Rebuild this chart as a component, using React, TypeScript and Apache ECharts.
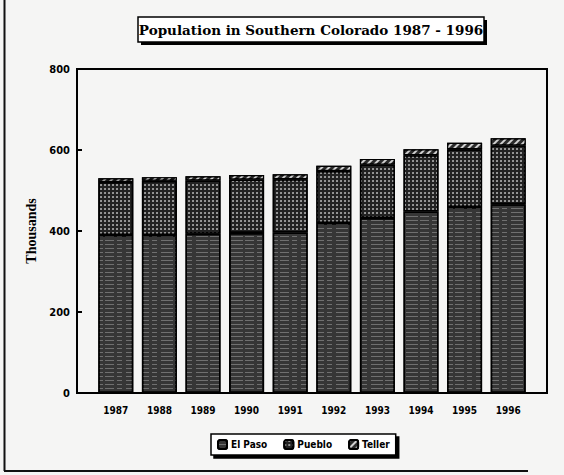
import React, { useEffect, useRef } from "react";
import * as echarts from "echarts";

const years = ["1987", "1988", "1989", "1990", "1991", "1992", "1993", "1994", "1995", "1996"];
const elPaso = [390, 390, 393, 395, 396, 420, 432, 448, 459, 466];
const pueblo = [131, 134, 132, 132, 132, 128, 132, 139, 143, 145];
const teller = [9, 9, 10, 11, 12, 13, 14, 15, 16, 18];
const yTicks = [0, 200, 400, 600, 800];

const NARROW = "'Liberation Sans Narrow', 'DejaVu Sans Condensed', 'Liberation Sans', sans-serif";
const SERIF = "'Liberation Serif', 'DejaVu Serif', serif";
const TITLE_FONT = "'DejaVu Serif', 'Liberation Serif', serif";

export default function App() {
  const ref = useRef<HTMLDivElement>(null);
  useEffect(() => {
    if (!ref.current) return;
    const chart = echarts.init(ref.current, null, { renderer: "svg" });
    const border = { borderColor: "#000", borderWidth: 1.5 };
    chart.setOption({
      animation: false,
      backgroundColor: "#f5f5f4",
      grid: { left: 94, right: 34, top: 69, bottom: 82, containLabel: false },
      legend: {
        left: 211,
        top: 434,
        itemWidth: 9,
        itemHeight: 9,
        itemGap: 16,
        padding: [5, 6, 5, 6],
        backgroundColor: "#fff",
        borderColor: "#000",
        borderWidth: 1.5,
        shadowColor: "#000",
        shadowBlur: 0,
        shadowOffsetX: 3,
        shadowOffsetY: 3,
        textStyle: { fontFamily: NARROW, fontWeight: "bold", fontSize: 10, color: "#000", padding: [0, 0, 0, -1] },
        data: ["El Paso", "Pueblo", "Teller"],
      },
      xAxis: {
        type: "category",
        data: years,
        axisLine: { show: false },
        axisTick: { show: false },
        axisLabel: { margin: 12, color: "#000", fontFamily: NARROW, fontWeight: "bold", fontSize: 10 },
      },
      yAxis: {
        type: "value",
        min: 0,
        max: 800,
        interval: 200,
        offset: 17,
        name: "Thousands",
        nameLocation: "middle",
        nameGap: 29,
        nameTextStyle: { fontFamily: SERIF, fontWeight: "bold", fontSize: 14, color: "#000" },
        axisLine: { show: false },
        axisTick: { show: true, inside: true, length: 5, lineStyle: { color: "#000", width: 2 } },
        splitLine: { show: false },
        axisLabel: { margin: 7, color: "#000", fontFamily: NARROW, fontWeight: "bold", fontSize: 11, customValues: yTicks },
      },
      series: [
        {
          name: "El Paso",
          type: "bar",
          stack: "pop",
          barWidth: 35,
          data: elPaso,
          itemStyle: {
            color: "#363636",
            ...border,
            decal: {
              symbol: "rect",
              symbolSize: 1,
              color: "rgba(170,170,170,0.5)",
              dashArrayX: [[9, 3, 5, 4, 12, 2]],
              dashArrayY: [1, 3],
            },
          },
        },
        {
          name: "Pueblo",
          type: "bar",
          stack: "pop",
          barWidth: 35,
          data: pueblo,
          itemStyle: {
            color: "#222",
            ...border,
            decal: {
              symbol: "circle",
              symbolSize: 0.85,
              color: "#c8c8c8",
              dashArrayX: [2, 2],
              dashArrayY: [2, 2],
            },
          },
        },
        {
          name: "Teller",
          type: "bar",
          stack: "pop",
          barWidth: 35,
          data: teller,
          itemStyle: {
            color: "#2a2a2a",
            borderColor: "#000",
            borderWidth: 1.2,
            decal: {
              symbol: "rect",
              symbolSize: 1,
              color: "#cfcfcf",
              dashArrayX: [1, 0],
              dashArrayY: [1.2, 2.3],
              rotation: -Math.PI / 4,
            },
          },
        },
      ],
      graphic: [
        // outer scan frame
        { type: "line", shape: { x1: 4.5, y1: 0, x2: 4.5, y2: 471 }, style: { stroke: "#111", lineWidth: 2 } },
        { type: "line", shape: { x1: 4, y1: 471, x2: 528, y2: 471 }, style: { stroke: "#111", lineWidth: 2 } },
        // plot frame
        {
          type: "rect",
          shape: { x: 77, y: 69, width: 470, height: 324 },
          style: { fill: "none", stroke: "#000", lineWidth: 2 },
          z: 10,
        },
        // title box with shadow
        { type: "rect", shape: { x: 141, y: 20, width: 346, height: 25 }, style: { fill: "#000" }, z: 10 },
        { type: "rect", shape: { x: 138, y: 17, width: 346, height: 25 }, style: { fill: "#fff", stroke: "#000", lineWidth: 1.5 }, z: 11 },
        {
          type: "text",
          x: 311,
          y: 30,
          style: {
            text: "Population in Southern Colorado 1987 - 1996",
            fontFamily: TITLE_FONT,
            fontWeight: "bold",
            fontSize: 13.5,
            fill: "#000",
            align: "center",
            verticalAlign: "middle",
          },
          z: 12,
        },
      ],
    });
    return () => chart.dispose();
  }, []);
  return <div ref={ref} style={{ position: "absolute", left: 0, top: 0, width: 564, height: 475 }} />;
}
